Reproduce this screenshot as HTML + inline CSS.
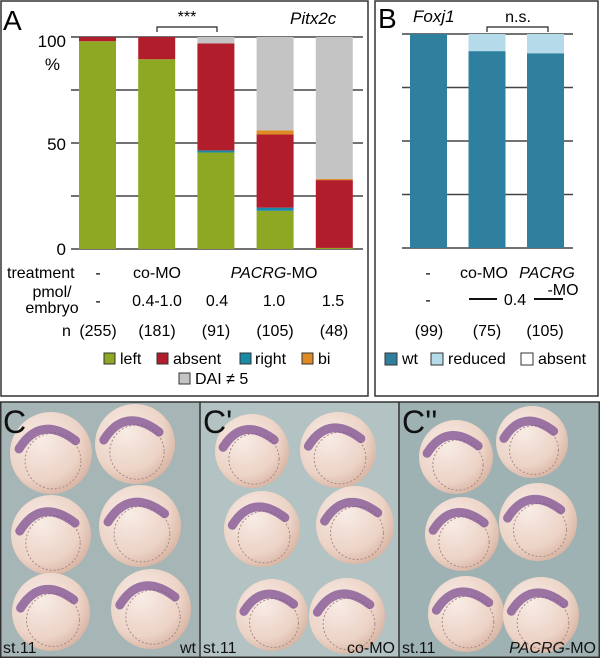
<!DOCTYPE html>
<html><head><meta charset="utf-8">
<style>
html,body{margin:0;padding:0;background:#fff;}
body{width:600px;height:658px;overflow:hidden;position:relative;font-family:"Liberation Sans",Arial,sans-serif;}
svg{position:absolute;left:0;top:0;}
</style></head>
<body>
<svg id="fig" width="600" height="658" viewBox="0 0 600 658" font-family="Liberation Sans, Arial, sans-serif">
  <defs>
    <radialGradient id="egg" cx="0.38" cy="0.35" r="0.75">
      <stop offset="0" stop-color="#f8ece6"/>
      <stop offset="0.65" stop-color="#ecd3c6"/>
      <stop offset="1" stop-color="#d2ab98"/>
    </radialGradient>
  </defs>
  <rect x="1" y="1" width="367" height="395" fill="#fff" stroke="#333" stroke-width="1.5"/>
  <rect x="375" y="1" width="223" height="395" fill="#fff" stroke="#333" stroke-width="1.5"/>
  <g id="chartA"></g>
  <g id="chartB"></g>

  <text x="3" y="30" font-size="28">A</text>
  <text x="290" y="24" font-size="17" font-style="italic">Pitx2c</text>
  <path d="M157,32 V27 H217 V32" fill="none" stroke="#222" stroke-width="1.2"/>
  <text x="187" y="22" font-size="16" text-anchor="middle">***</text>
  <g font-size="17" text-anchor="end">
    <text x="66" y="47">100</text>
    <text x="60" y="70">%</text>
    <text x="66" y="150">50</text>
    <text x="66" y="255">0</text>
  </g>
  <g font-size="16">
    <text x="7" y="278">treatment</text>
    <text x="98" y="278" text-anchor="middle">-</text>
    <text x="157" y="278" text-anchor="middle">co-MO</text>
    <text x="274" y="278" text-anchor="middle"><tspan font-style="italic">PACRG</tspan>-MO</text>
    <text x="52" y="297" text-anchor="middle">pmol/</text>
    <text x="52" y="313" text-anchor="middle">embryo</text>
    <text x="98" y="306" text-anchor="middle">-</text>
    <text x="157" y="306" text-anchor="middle">0.4-1.0</text>
    <text x="217" y="306" text-anchor="middle">0.4</text>
    <text x="274" y="306" text-anchor="middle">1.0</text>
    <text x="333" y="306" text-anchor="middle">1.5</text>
    <text x="62" y="336">n</text>
  </g>
  <g id="nA" font-size="16" text-anchor="middle"></g>
  <g font-size="16">
    <rect x="104" y="353" width="11" height="11" fill="#8fa823" stroke="#333"/>
    <text x="120" y="364">left</text>
    <rect x="157" y="353" width="11" height="11" fill="#b21d2b" stroke="#333"/>
    <text x="173" y="364">absent</text>
    <rect x="240" y="353" width="11" height="11" fill="#1b8aa8" stroke="#333"/>
    <text x="255" y="364">right</text>
    <rect x="302" y="353" width="11" height="11" fill="#de8a25" stroke="#333"/>
    <text x="318" y="364">bi</text>
    <rect x="179" y="373" width="11" height="11" fill="#c4c4c4" stroke="#333"/>
    <text x="195" y="384">DAI ≠ 5</text>
  </g>

  <text x="378" y="28" font-size="28">B</text>
  <text x="413" y="22" font-size="17" font-style="italic">Foxj1</text>
  <path d="M487,32 V27 H548 V32" fill="none" stroke="#222" stroke-width="1.2"/>
  <text x="518" y="22" font-size="16" text-anchor="middle">n.s.</text>
  <g font-size="16">
    <text x="428" y="278" text-anchor="middle">-</text>
    <text x="484" y="278" text-anchor="middle">co-MO</text>
    <text x="547" y="278" text-anchor="middle" font-style="italic">PACRG</text>
    <text x="563" y="295" text-anchor="middle">-MO</text>
    <text x="428" y="305" text-anchor="middle">-</text>
    <line x1="469" y1="299" x2="497" y2="299" stroke="#111" stroke-width="2"/>
    <text x="515" y="305" text-anchor="middle">0.4</text>
    <line x1="534" y1="299" x2="563" y2="299" stroke="#111" stroke-width="2"/>
  </g>
  <g id="nB" font-size="16" text-anchor="middle"></g>
  <g font-size="16">
    <rect x="385" y="353" width="12" height="12" fill="#2f7f9e" stroke="#333"/>
    <text x="402" y="364">wt</text>
    <rect x="431" y="353" width="12" height="12" fill="#b5dbea" stroke="#333"/>
    <text x="448" y="364">reduced</text>
    <rect x="521" y="353" width="12" height="12" fill="#fff" stroke="#333"/>
    <text x="538" y="364">absent</text>
  </g>

  <rect x="0" y="402" width="600" height="256" fill="#a6b5b5"/>
  <rect x="200" y="402" width="199" height="256" fill="#b3c2c2"/>
  <rect x="399" y="402" width="201" height="256" fill="#9fb2b3"/>
  <g id="eggs"></g>
  <line x1="200" y1="402" x2="200" y2="658" stroke="#333" stroke-width="1.5"/>
  <line x1="399" y1="402" x2="399" y2="658" stroke="#333" stroke-width="1.5"/>
  <rect x="0.75" y="402" width="598.5" height="255.25" fill="none" stroke="#333" stroke-width="1.5"/>
  <g font-size="32" fill="#111">
    <text x="3" y="433">C</text>
    <text x="203" y="433">C'</text>
    <text x="402" y="433">C''</text>
  </g>
  <g font-size="16" fill="#111">
    <text x="3" y="653">st.11</text>
    <text x="196" y="653" text-anchor="end">wt</text>
    <text x="203" y="653">st.11</text>
    <text x="395" y="653" text-anchor="end">co-MO</text>
    <text x="402" y="653">st.11</text>
    <text x="596" y="653" text-anchor="end"><tspan font-style="italic">PACRG</tspan>-MO</text>
  </g>
</svg>
<script>
// Panel A data (percent)
const catsA = ["-", "co-MO 0.4-1.0", "PACRG-MO 0.4", "PACRG-MO 1.0", "PACRG-MO 1.5"];
const leftA = [98, 89.5, 45.5, 18, 0.5];
const rightA = [0, 0, 1, 1.5, 0];
const absentA = [2, 10.5, 50.5, 34.5, 32];
const biA = [0, 0, 0, 2, 0.5];
const daiA = [0, 0, 3, 44, 67];
const nA = ["(255)", "(181)", "(91)", "(105)", "(48)"];
const ticksA = [0, 25, 50, 75, 100];
// Panel B data (percent)
const catsB = ["-", "co-MO", "PACRG-MO"];
const wtB = [100, 92, 91];
const reducedB = [0, 8, 9];
const absentB = [0, 0, 0];
const nB = ["(99)", "(75)", "(105)"];
const ticksB = [0, 25, 50, 75, 100];

const NS = "http://www.w3.org/2000/svg";
function mk(tag, attrs, parent){const e=document.createElementNS(NS,tag);for(const k in attrs)e.setAttribute(k,attrs[k]);parent.appendChild(e);return e;}

function drawStack(g, cats, series, colors, names, ticks, x0, x1, barX, barW, yTop, yBot){
  const y = v => yBot - (v/100)*(yBot-yTop);
  ticks.forEach(t=>{
    const l = mk('line',{x1:x0,x2:x1,y1:y(t),y2:y(t),stroke:'#444','stroke-width':1.5},g);
    
    
  });
  cats.forEach((c,i)=>{
    let acc=0;
    series.forEach((s,j)=>{
      const v=s[i]; if(v<=0) return;
      const r = mk('rect',{x:barX(i),width:barW,y:y(acc+v),height:y(acc)-y(acc+v),fill:colors[j]},g);
      
      
      acc+=v;
    });
  });
}
const gA=document.getElementById('chartA');
drawStack(gA, catsA, [leftA,rightA,absentA,biA,daiA], ['#8fa823','#1b8aa8','#b21d2b','#de8a25','#c4c4c4'],
  ['left','right','absent','bi','dai'], ticksA, 71, 363, i=>79+i*59.2, 37, 37, 249);
const gB=document.getElementById('chartB');
drawStack(gB, catsB, [wtB,reducedB,absentB], ['#2f7f9e','#b5dbea','#ffffff'],
  ['wt','reduced','absent'], ticksB, 402, 573, i=>410+i*58.5, 37, 34, 248);

const nAg=document.getElementById('nA');
nA.forEach((t,i)=>{const e=mk('text',{x:98+i*59,y:336},nAg);e.textContent=t;
  
  });
const nBg=document.getElementById('nB');
nB.forEach((t,i)=>{const e=mk('text',{x:429+i*58,y:336},nBg);e.textContent=t;
  
  });

const eggs=[[51,453,41],[135,444,40],[51,535,40],[140,526,41],[51,612,39],[151,609,40],
  [252,451,37],[338,450,38],[262,529,38],[355,525,39],[272,615,36],[347,616,38],
  [456,457,37],[532,442,36],[462,534,37],[538,522,39],[466,614,38],[541,615,38]];
const eg=document.getElementById('eggs');
eggs.forEach((e,i)=>{
  const [cx,cy,r]=e;
  const c=mk('circle',{cx:cx,cy:cy,r:r,fill:'url(#egg)'},eg);
  
  
  const inner=mk('circle',{cx:cx+2,cy:cy+8,r:r*0.68,fill:'none',stroke:'#a98a86','stroke-width':1,'stroke-dasharray':'2 2'},eg);
  
  
  const a=mk('path',{d:`M${cx-r*0.78},${cy-r*0.1} Q${cx-r*0.25},${cy-r*0.95} ${cx+r*0.6},${cy-r*0.3}`,fill:'none',stroke:'#7e4f92','stroke-width':9,'stroke-linecap':'round','stroke-dasharray':'3 1',opacity:0.75},eg);
  
  
});
</script>
</body></html>
